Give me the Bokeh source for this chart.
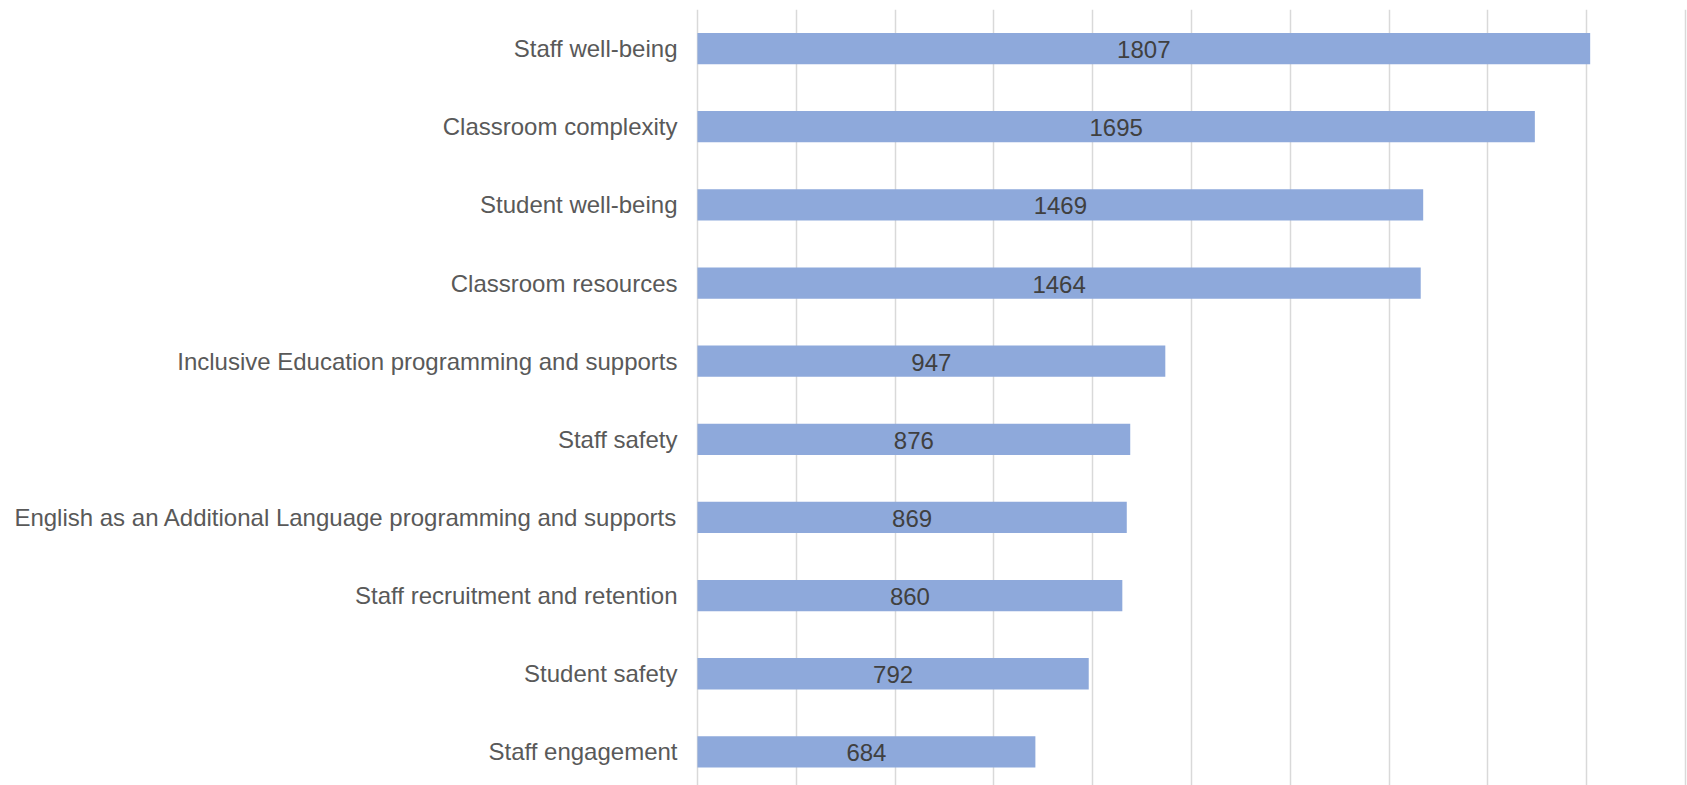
from bokeh.plotting import figure
from bokeh.models import Range1d, FixedTicker, ColumnDataSource, LabelSet
from bokeh.core.properties import value
from bokeh.embed import file_html
from bokeh.resources import INLINE

categories = [
    "Staff well-being",
    "Classroom complexity",
    "Student well-being",
    "Classroom resources",
    "Inclusive Education programming and supports",
    "Staff safety",
    "English as an Additional Language programming and supports",
    "Staff recruitment and retention",
    "Student safety",
    "Staff engagement",
]
counts = [1807, 1695, 1469, 1464, 947, 876, 869, 860, 792, 684]
x_ticks = [0, 200, 400, 600, 800, 1000, 1200, 1400, 1600, 1800, 2000]

positions = list(range(len(categories)))
source = ColumnDataSource(dict(
    y=positions,
    count=counts,
    mid=[c / 2 for c in counts],
    label=[str(c) for c in counts],
))

p = figure(
    width=1687, height=785,
    output_backend="svg", toolbar_location=None,
    x_range=Range1d(-6, 2004),
    y_range=Range1d(9.43, -0.5),
    min_border_left=694, min_border_right=0,
    min_border_top=9, min_border_bottom=0,
)
p.outline_line_color = None
p.background_fill_color = "white"
p.border_fill_color = "white"

p.hbar(y="y", right="count", left=0, height=0.4, source=source,
       fill_color="#8EA9DB", line_color=None)

labels = LabelSet(x="mid", y="y", text="label", source=source,
                  text_align="center", text_baseline="middle", y_offset=-1,
                  text_font=value("Liberation Sans"), text_font_size=value("24px"),
                  text_color=value("#404040"))
p.add_layout(labels)

p.xaxis.visible = False
p.xaxis.ticker = FixedTicker(ticks=x_ticks)
p.xgrid.ticker = FixedTicker(ticks=x_ticks)
p.xgrid.grid_line_color = "#D9D9D9"
p.xgrid.grid_line_width = 1.5
p.ygrid.grid_line_color = None

yax = p.yaxis[0]
yax.ticker = FixedTicker(ticks=positions)
yax.major_label_overrides = {i: c for i, c in zip(positions, categories)}
yax.major_label_text_font = "Liberation Sans"
yax.major_label_text_font_size = "24px"
yax.major_label_text_color = "#595959"
yax.axis_line_color = None
yax.major_tick_line_color = None
yax.minor_tick_line_color = None
yax.major_tick_out = 0
yax.major_tick_in = 0
yax.major_label_standoff = 17

open("out.html", "w").write(file_html(p, INLINE))
